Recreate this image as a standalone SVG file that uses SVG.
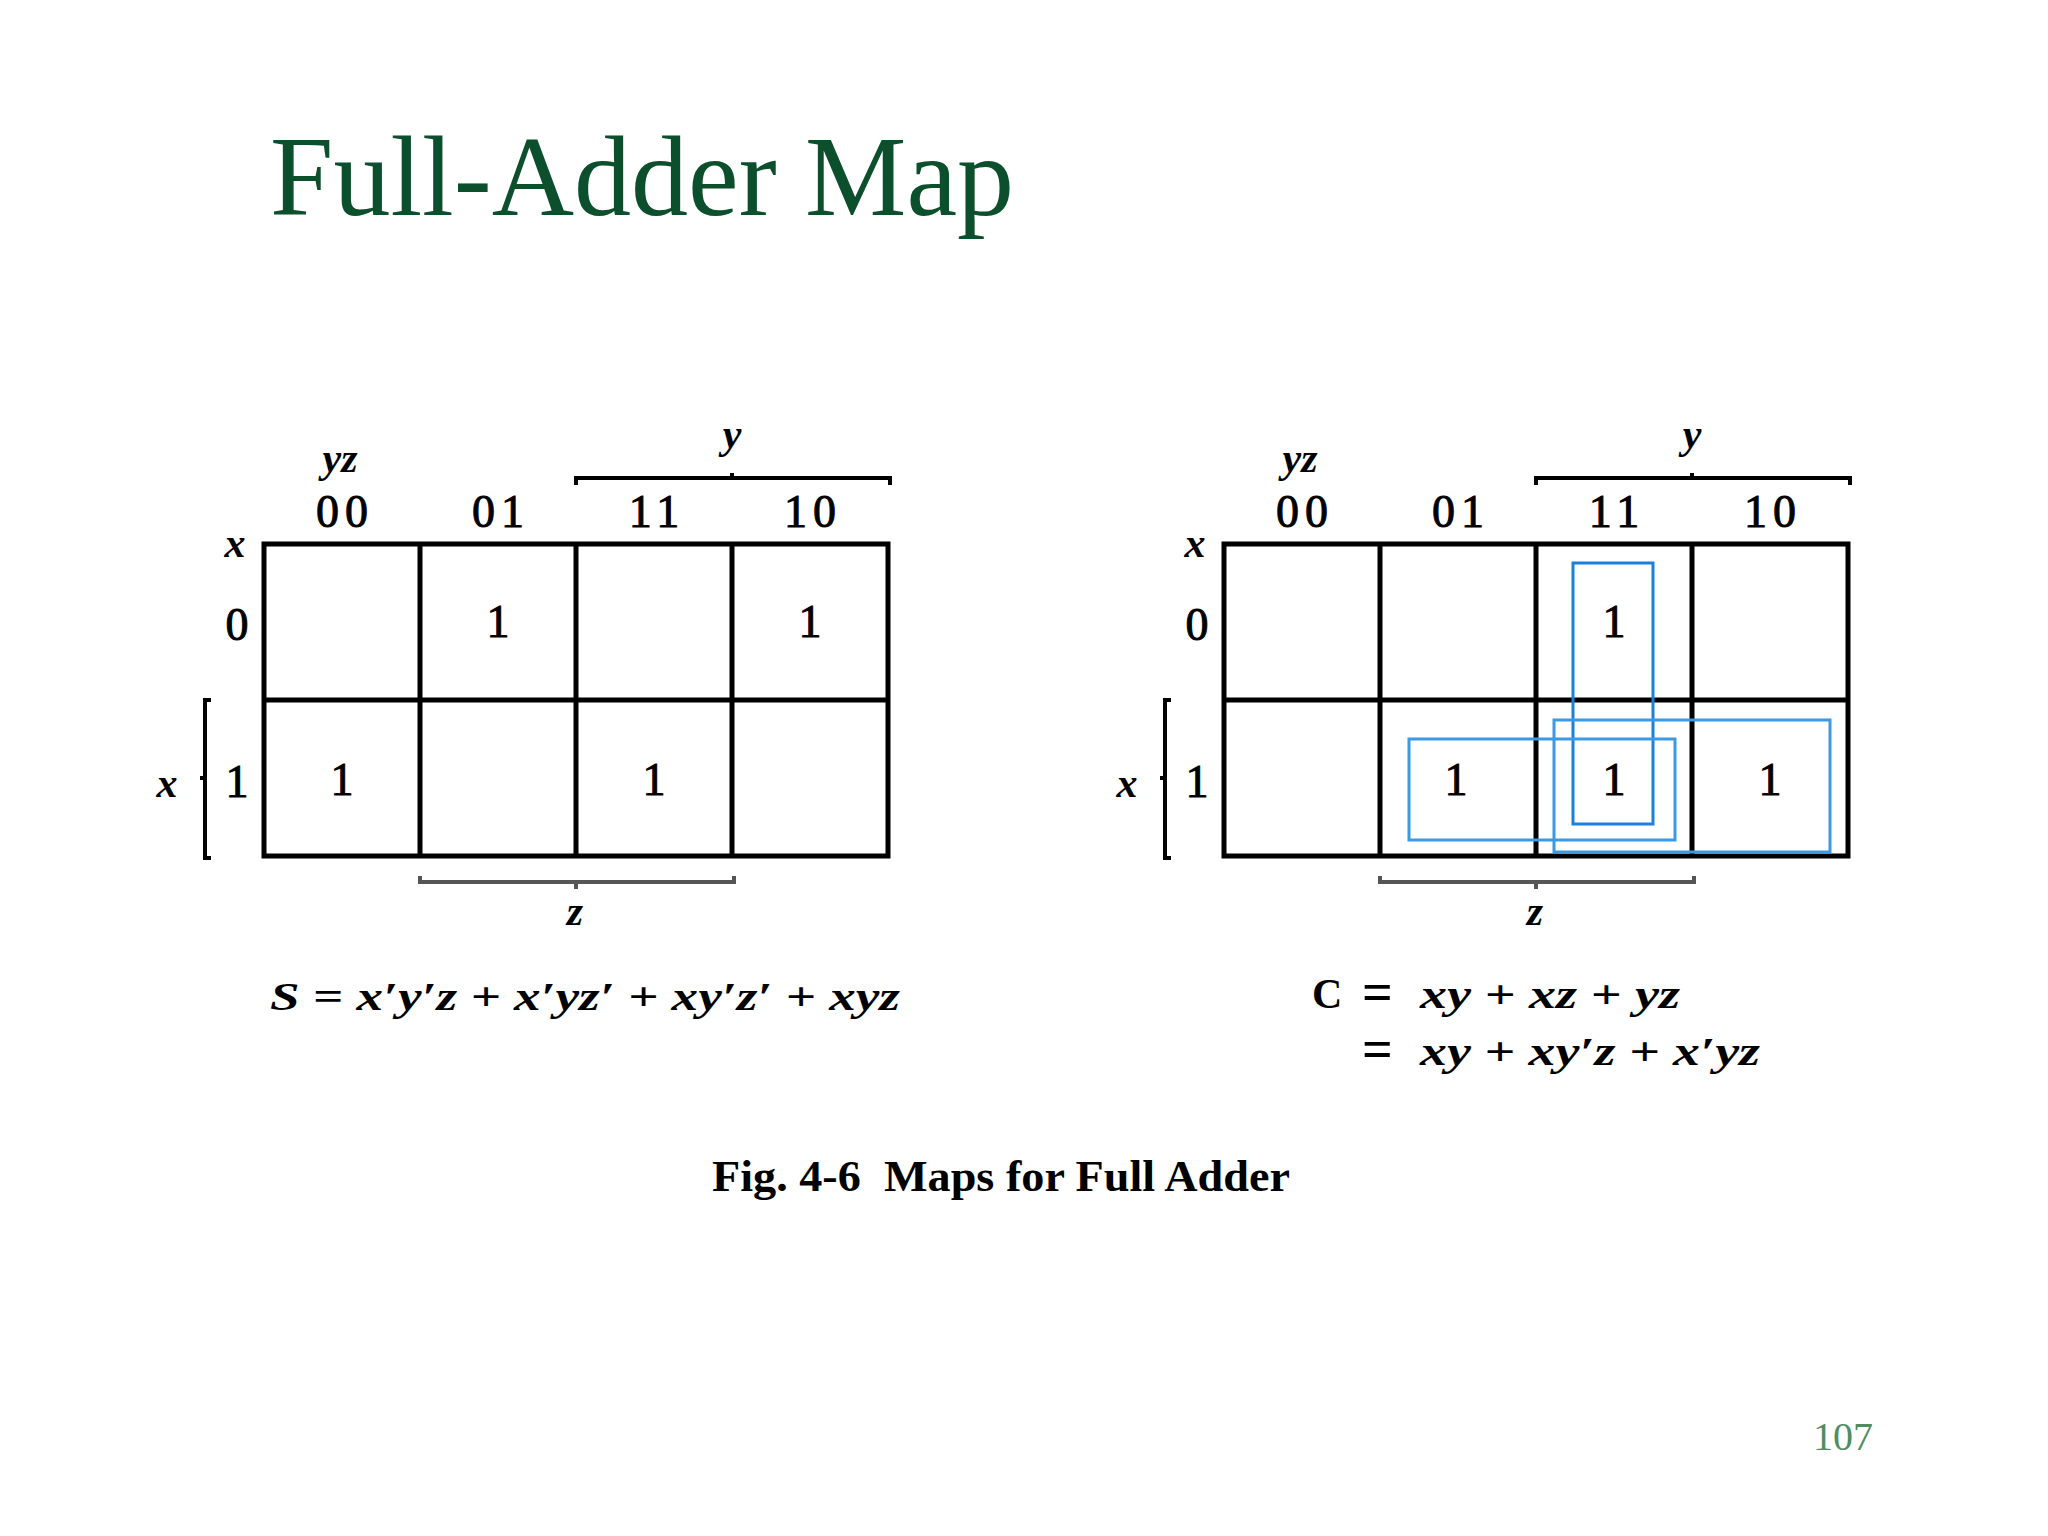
<svg xmlns="http://www.w3.org/2000/svg" width="2048" height="1536" viewBox="0 0 2048 1536">
<style>
.title{font-family:"Liberation Serif","Times New Roman",serif;font-size:114px;fill:#0B4F2D}
.pg{font-family:"Liberation Serif","Times New Roman",serif;font-size:40px;fill:#4E8C63}
.var{font-family:"Liberation Serif","Times New Roman",serif;font-size:42px;font-style:italic;font-weight:bold;fill:#000;text-anchor:middle}
.num{font-family:"Liberation Serif","Times New Roman",serif;font-size:46px;fill:#000;stroke:#000;stroke-width:1;text-anchor:middle;letter-spacing:6px}
.cell{font-family:"Liberation Serif","Times New Roman",serif;font-size:46px;fill:#000;stroke:#000;stroke-width:1;text-anchor:middle}
.eq{font-family:"Liberation Serif","Times New Roman",serif;font-size:40px;font-style:italic;font-weight:bold;fill:#000}
.equp{font-family:"Liberation Serif","Times New Roman",serif;font-size:42px;font-weight:bold;fill:#000}
.eqs{font-family:"Liberation Serif","Times New Roman",serif;font-size:54px;font-weight:bold;fill:#000}
.cap{font-family:"Liberation Serif","Times New Roman",serif;font-size:44px;font-weight:bold;fill:#000;white-space:pre}
.grid{fill:none;stroke:#000;stroke-width:5}
.br{fill:none;stroke:#000;stroke-width:4}
.brz{fill:none;stroke:#555;stroke-width:4}
.loopA{fill:none;stroke:#1A80DC;stroke-width:3}
.loopB{fill:none;stroke:#3A9AE6;stroke-width:3}
</style>
<rect width="2048" height="1536" fill="#fff"/>
<text class="title" x="270" y="215">Full-Adder Map</text>

<g id="mapS">
  <rect class="grid" x="264" y="544" width="624" height="312"/>
  <path class="grid" d="M420,544V856M576,544V856M732,544V856M264,700H888"/>
  <text class="var" x="340" y="472">yz</text>
  <text class="var" x="732" y="448">y</text>
  <path class="br" d="M576,485V478H890V485M732,478V473"/>
  <text class="num" x="345" y="527">00</text>
  <text class="num" x="501" y="527">01</text>
  <text class="num" x="657" y="527">11</text>
  <text class="num" x="813" y="527">10</text>
  <text class="var" x="235" y="557">x</text>
  <text class="cell" x="237" y="640">0</text>
  <text class="cell" x="237" y="797">1</text>
  <path class="br" d="M211,700H205V858H211M205,778H200"/>
  <text class="var" x="167" y="797">x</text>
  <text class="cell" x="498" y="637">1</text>
  <text class="cell" x="810" y="637">1</text>
  <text class="cell" x="342" y="795">1</text>
  <text class="cell" x="654" y="795">1</text>
  <path class="brz" d="M420,876V882H734V876M576,882V889"/>
  <text class="var" x="575" y="925">z</text>
  <text class="eq" x="270" y="1010" textLength="630" lengthAdjust="spacingAndGlyphs">S = x′y′z + x′yz′ + xy′z′ + xyz</text>
</g>

<g id="mapC">
  <rect class="grid" x="1224" y="544" width="624" height="312"/>
  <path class="grid" d="M1380,544V856M1536,544V856M1692,544V856M1224,700H1848"/>
  <text class="var" x="1300" y="472">yz</text>
  <text class="var" x="1692" y="448">y</text>
  <path class="br" d="M1536,485V478H1850V485M1692,478V473"/>
  <text class="num" x="1305" y="527">00</text>
  <text class="num" x="1461" y="527">01</text>
  <text class="num" x="1617" y="527">11</text>
  <text class="num" x="1773" y="527">10</text>
  <text class="var" x="1195" y="557">x</text>
  <text class="cell" x="1197" y="640">0</text>
  <text class="cell" x="1197" y="797">1</text>
  <path class="br" d="M1171,700H1165V858H1171M1165,778H1160"/>
  <text class="var" x="1127" y="797">x</text>
  <text class="cell" x="1614" y="637">1</text>
  <text class="cell" x="1456" y="795">1</text>
  <text class="cell" x="1614" y="795">1</text>
  <text class="cell" x="1770" y="795">1</text>
  <path class="brz" d="M1380,876V882H1694V876M1536,882V889"/>
  <text class="var" x="1535" y="925">z</text>
  <rect class="loopA" x="1573" y="563" width="80" height="261"/>
  <rect class="loopB" x="1409" y="739" width="266" height="101"/>
  <rect class="loopB" x="1554" y="720" width="276" height="132"/>
  <text class="equp" x="1312" y="1008">C</text>
  <text class="eqs" x="1362" y="1010">=</text>
  <text class="eq" x="1420" y="1008" textLength="260" lengthAdjust="spacingAndGlyphs">xy + xz + yz</text>
  <text class="eqs" x="1362" y="1067">=</text>
  <text class="eq" x="1420" y="1065" textLength="340" lengthAdjust="spacingAndGlyphs">xy + xy′z + x′yz</text>
</g>

<text class="cap" x="712" y="1191" textLength="578" lengthAdjust="spacingAndGlyphs">Fig. 4-6  Maps for Full Adder</text>
<text class="pg" x="1873" y="1450" text-anchor="end">107</text>
</svg>
